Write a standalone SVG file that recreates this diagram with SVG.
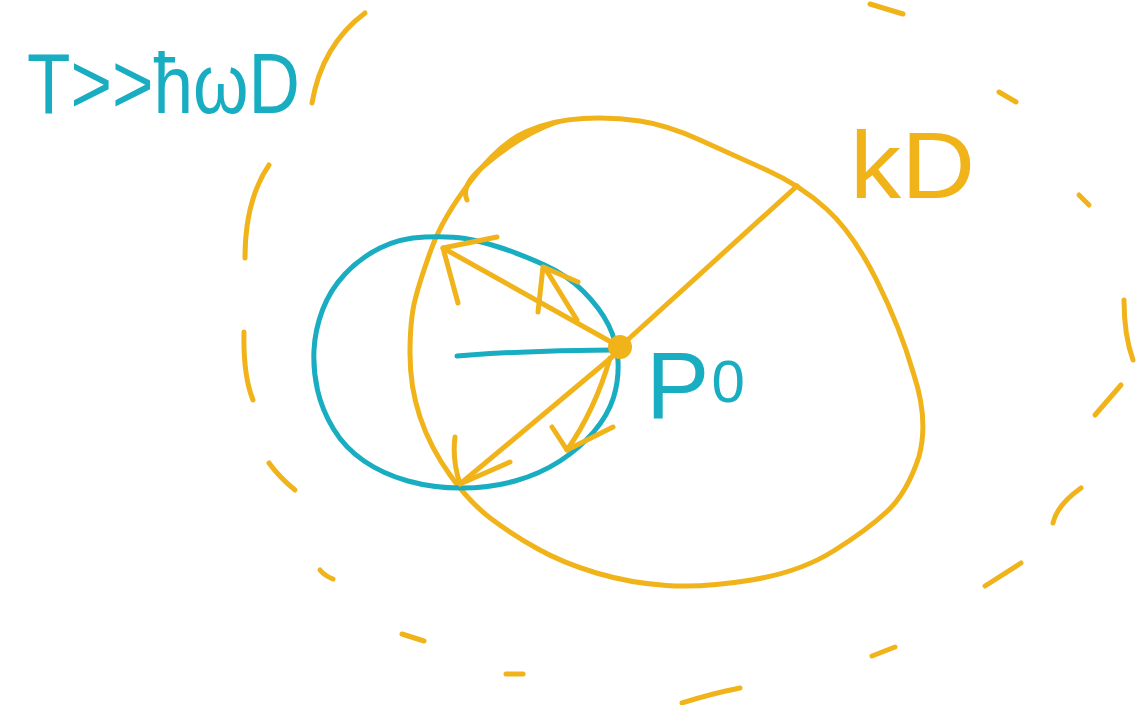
<svg xmlns="http://www.w3.org/2000/svg" width="1137" height="705" viewBox="0 0 1137 705">
<style>
.o{fill:none;stroke:#f1b31a;stroke-width:5;stroke-linecap:round;stroke-linejoin:round}
.c{fill:none;stroke:#19adc2;stroke-width:5;stroke-linecap:round;stroke-linejoin:round}
.tc{fill:#19adc2;font-family:"Liberation Sans",Arial,sans-serif}
.to{fill:#f1b31a;font-family:"Liberation Sans",Arial,sans-serif}
</style>
<rect width="1137" height="705" fill="#fff"/>
<g id="outer-dashed">
<path class="o" d="M365,13 Q322,45 312,103"/>
<path class="o" d="M269,165 Q245,200 245,258"/>
<path class="o" d="M244,332 Q243,375 253,400"/>
<path class="o" d="M269,463 Q280,478 295,490"/>
<path class="o" d="M320,570 Q325,576 333,579"/>
<path class="o" d="M402,634 L424,641"/>
<path class="o" d="M506,674 L523,674"/>
<path class="o" d="M682,703 Q710,694 740,688"/>
<path class="o" d="M872,656 L895,647"/>
<path class="o" d="M985,586 L1021,563"/>
<path class="o" d="M1053,523 Q1057,505 1081,488"/>
<path class="o" d="M1121,385 L1095,415"/>
<path class="o" d="M1124,300 Q1124,335 1133,360"/>
<path class="o" d="M1079,195 L1089,205"/>
<path class="o" d="M999,92 L1016,102"/>
<path class="o" d="M870,4 L903,14"/>
</g>
<g id="kD-sphere">
<path class="o" d="M471.5,180 Q500,143 526.5,131.5 Q553,120 583,118.5 Q613,117 640,121 Q667,125 700,140 Q733,155 766.5,170 Q800,185 826.5,209 Q853,233 876.5,280 Q900,327 913.5,373.5 Q929,420 919,456.5 Q907,493 887,511.5 Q867,530 833.5,551 Q800,572 751.5,580 Q703,588 666.5,585.5 Q630,583 596.5,573 Q563,563 538,549 Q513,535 491.5,519 Q470,503 450,475 Q430,447 420,417 Q410,387 410,353.5 Q410,320 415,300 Q420,280 431.5,248.5 Q443,217 471.5,180 Z"/>
<path class="o" d="M467,200 Q460,185 485,165 Q520,135 557,122"/>
</g>
<g id="thermal-sphere">
<path class="c" d="M425,237 Q400,238 380,248 Q360,258 345,274 Q330,290 322.5,310 Q315,330 314,350 Q313,370 317.5,390 Q322,410 333.5,429 Q345,448 364,461 Q383,474 408,481 Q433,488 461.5,488 Q490,488 515,481 Q540,474 560,461 Q580,448 594,431.5 Q608,415 613.5,397.5 Q619,380 618,361 Q617,342 608.5,325 Q600,308 583.5,291.5 Q567,275 543.5,264.5 Q520,254 500,247.5 Q480,241 465,238.5 Q450,236 425,237 Z"/>
</g>
<g id="connectors">
<path class="c" d="M457,356 L470,355 Q540,350 612,350"/>
<path class="o" d="M622,345 L797,186"/>
<path class="o" d="M620,347 L443,248"/>
<path class="o" d="M458,303 L443,248 L497,237"/>
<path class="o" d="M577,320 L545,268"/>
<path class="o" d="M538,312 L543,267 L578,282"/>
<path class="o" d="M618,352 L460,484"/>
<path class="o" d="M455,437 Q452,460 460,484 L510,462"/>
<path class="o" d="M610,358 Q595,410 567,450"/>
<path class="o" d="M552,427 L567,450 L613,427"/>
</g>
<g id="P0">
<circle cx="620" cy="347" r="12" fill="#f1b31a"/>
<text class="tc" x="646" y="418" font-size="95">P<tspan font-size="60" dx="2" dy="-16">0</tspan></text>
</g>
<g id="label-T">
<text class="tc" x="27" y="113" font-size="85" textLength="273" lengthAdjust="spacingAndGlyphs">T&gt;&gt;ħωD</text>
</g>
<g id="label-kD">
<text class="to" x="850" y="198" font-size="95" textLength="125" lengthAdjust="spacingAndGlyphs">kD</text>
</g>
</svg>
